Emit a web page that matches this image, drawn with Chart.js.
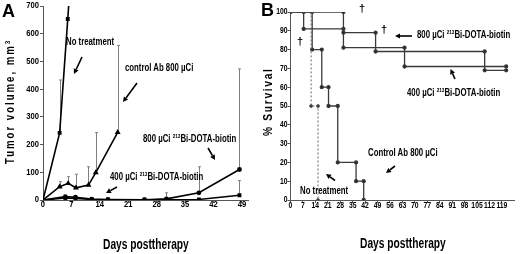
<!DOCTYPE html>
<html><head><meta charset="utf-8">
<script src="https://cdn.jsdelivr.net/npm/chart.js@4.4.0/dist/chart.umd.min.js"></script>
<style>
body{margin:0;background:#fff;width:520px;height:254px;overflow:hidden;position:relative;font-family:"Liberation Sans",Arial,sans-serif;}
canvas{position:absolute;top:0}
#ca{left:0}
#cb{left:260px}
.t{position:absolute;white-space:nowrap;font-weight:bold;color:#000;line-height:1;transform-origin:0 50%;transform:translateY(-50%) scaleX(0.78);font-size:10px}
.t sup{font-size:6px;vertical-align:top;position:relative;top:-1px}
.big{font-size:14px;transform:translateY(-50%) scaleX(0.73)}
.dg{font-size:11px;transform:translateY(-50%)}
.pan{font-size:18px;font-weight:bold;position:absolute;line-height:1}
.yt{position:absolute;white-space:nowrap;font-weight:bold;font-size:12px;line-height:1;transform-origin:0 0}
.yt sup{font-size:8px;vertical-align:top}
svg{position:absolute;left:0;top:0}
</style></head>
<body>
<canvas id="ca" width="260" height="254"></canvas>
<canvas id="cb" width="260" height="254"></canvas>
<svg width="520" height="254" id="arr"></svg>
<div class="pan" style="left:2px;top:2px">A</div>
<div class="pan" style="left:261px;top:1px">B</div>
<div class="yt" style="left:4px;top:164px;letter-spacing:2.5px;transform:rotate(-90deg) scaleX(0.8)">Tumor volume, mm<sup>3</sup></div>
<div class="yt" style="left:262px;top:136px;letter-spacing:2px;transform:rotate(-90deg) scaleX(0.85)">% Survival</div>
<div class="t" style="left:66px;top:42px">No treatment</div>
<div class="t" style="left:125px;top:68px">control Ab 800 µCi</div>
<div class="t" style="left:143px;top:139px">800 µCi <sup>213</sup>Bi-DOTA-biotin</div>
<div class="t" style="left:110px;top:177px">400 µCi <sup>213</sup>Bi-DOTA-biotin</div>
<div class="t big" style="left:103px;top:244px">Days posttherapy</div>
<div class="t" style="left:417px;top:35px">800 µCi <sup>213</sup>Bi-DOTA-biotin</div>
<div class="t" style="left:407px;top:93px">400 µCi <sup>213</sup>Bi-DOTA-biotin</div>
<div class="t" style="left:368px;top:153px">Control Ab 800 µCi</div>
<div class="t" style="left:300px;top:191px">No treatment</div>
<div class="t big" style="left:360px;top:243px">Days posttherapy</div>
<div class="t dg" style="left:297px;top:41px">†</div>
<div class="t dg" style="left:359px;top:8px">†</div>
<div class="t dg" style="left:381px;top:29px">†</div>
<script>
// ---------- Panel A data ----------
const xTicksA = [0,7,14,21,28,35,42,49];
const yTicksA = [0,100,200,300,400,500,600,700];
const noTxDaysA = [0,4.1,6.1,8];
const noTxVolA  = [0,242,653,1060];
const noTxErrA  = [null,433,null,null];
const ctrlDaysA = [0,4.1,6.2,8.1,11.2,13,18.4];
const ctrlVolA  = [0,48,60,44,54,99,244];
const ctrlErrA  = [null,66,84,93,120,243,558];
const biDaysA   = [0,5.5,8,12,16,25,30.4,38.4,48.4];
const bi800VolA = [0,12,10,3,2,1,4,26,110];
const bi800ErrA = [null,null,null,null,null,null,26,120,473];
const bi400VolA = [0,7,6,2,1,1,1,2,17];
const bi400ErrA = [null,null,null,null,null,null,null,null,70];

// ---------- Panel B data ----------
const xTicksB = [0,7,14,21,28,35,42,49,56,63,70,77,84,91,98,105,112,119];
const yTicksB = [0,10,20,30,40,50,60,70,80,90,100];
const noTxTimesB = [11.6,15.5];
const noTxSurvB  = [50,0];
const ctrlTimesB = [12.2,17.6,21.4,26.6,36.9,41.2];
const ctrlSurvB  = [80,60,50,20,10,0];
const bi800TimesB = [29.8,47.9,109.3];
const bi800SurvB  = [89,79,69];
const bi800EndB   = 121.4;
const bi400TimesB = [7.4,29.8,64.2];
const bi400SurvB  = [91,81,71];
const bi400EndB   = 121.4;

function pts(xs, ys){ return xs.map((x,i)=>({x:x,y:ys[i]})); }
function km(times, surv, end){
  const p=[{x:0,y:100}]; let prev=100;
  times.forEach((t,i)=>{ p.push({x:t,y:prev}); p.push({x:t,y:surv[i]}); prev=surv[i]; });
  if(end!=null) p.push({x:end,y:prev});
  return p;
}

const errPlugin = {
  id:'err',
  beforeDatasetsDraw(chart){
    const ctx=chart.ctx, xs=chart.scales.x, ys=chart.scales.y, a=chart.chartArea;
    ctx.save();
    ctx.beginPath(); ctx.rect(a.left,a.top-1,a.right-a.left,a.bottom-a.top+1); ctx.clip();
    ctx.strokeStyle='#808080'; ctx.lineWidth=1;
    chart.data.datasets.forEach(ds=>{
      if(!ds.err) return;
      ds.data.forEach((p,i)=>{
        const e=ds.err[i]; if(e==null) return;
        const px=Math.round(xs.getPixelForValue(p.x))+0.5;
        const y0=ys.getPixelForValue(p.y), y1=ys.getPixelForValue(e);
        ctx.beginPath(); ctx.moveTo(px,y0); ctx.lineTo(px,y1);
        ctx.moveTo(px-1.5,y1); ctx.lineTo(px+1.5,y1); ctx.stroke();
      });
    });
    ctx.restore();
  }
};

// narrow tick labels drawn from the scales' own ticks
function tickPlugin(size, sx, xLabelY, yLabelRight){
  return {
    id:'nt',
    afterDraw(chart){
      const ctx=chart.ctx, xs=chart.scales.x, ys=chart.scales.y;
      ctx.save();
      ctx.fillStyle='#000';
      ctx.font='bold '+size+'px "Liberation Sans", Arial, sans-serif';
      ctx.textBaseline='middle';
      ctx.textAlign='center';
      xs.ticks.forEach(t=>{
        const x=xs.getPixelForValue(t.value);
        ctx.save(); ctx.translate(x,xLabelY); ctx.scale(sx,1); ctx.fillText(String(t.value),0,0); ctx.restore();
      });
      ctx.textAlign='right';
      ys.ticks.forEach(t=>{
        const y=ys.getPixelForValue(t.value);
        ctx.save(); ctx.translate(yLabelRight,y); ctx.scale(sx,1); ctx.fillText(String(t.value),0,0); ctx.restore();
      });
      ctx.restore();
    }
  };
}

function axisCommon(){
  return {
    border:{color:'#555',width:1},
    grid:{drawOnChartArea:false,drawTicks:true,tickLength:3,color:'#555'},
    ticks:{display:false,autoSkip:false}
  };
}

new Chart(document.getElementById('ca'),{
  type:'line',
  data:{datasets:[
    {data:pts(noTxDaysA,noTxVolA),err:noTxErrA,borderColor:'#000',backgroundColor:'#000',borderWidth:1.6,pointRadius:1.6,pointStyle:'rect'},
    {data:pts(ctrlDaysA,ctrlVolA),err:ctrlErrA,borderColor:'#000',backgroundColor:'#000',borderWidth:1.6,pointRadius:1.8,pointStyle:'triangle'},
    {data:pts(biDaysA,bi800VolA),err:bi800ErrA,borderColor:'#000',backgroundColor:'#000',borderWidth:1.6,pointRadius:1.6,pointStyle:'circle'},
    {data:pts(biDaysA,bi400VolA),err:bi400ErrA,borderColor:'#000',backgroundColor:'#000',borderWidth:1.6,pointRadius:1.6,pointStyle:'rect'}
  ]},
  options:{
    responsive:false,animation:false,
    layout:{padding:{left:0,right:12,top:6,bottom:0}},
    plugins:{legend:{display:false},tooltip:{enabled:false}},
    scales:{
      x:Object.assign(axisCommon(),{type:'linear',min:0,max:50.5,
        afterBuildTicks:s=>{s.ticks=xTicksA.map(v=>({value:v}));},
        afterFit:s=>{s.height=54;}}),
      y:Object.assign(axisCommon(),{type:'linear',min:0,max:700,
        afterBuildTicks:s=>{s.ticks=yTicksA.map(v=>({value:v}));},
        afterFit:s=>{s.width=43;}})
    }
  },
  plugins:[errPlugin, tickPlugin(9,0.85,205,39)]
});

const lineB='#3a3a3a';
new Chart(document.getElementById('cb'),{
  type:'line',
  data:{datasets:[
    {data:km(noTxTimesB,noTxSurvB,null),borderColor:'#666',backgroundColor:'#333',borderWidth:1,borderDash:[2,2],pointRadius:1.5},
    {data:km(ctrlTimesB,ctrlSurvB,null),borderColor:lineB,backgroundColor:'#222',borderWidth:1.3,pointRadius:1.5},
    {data:km(bi800TimesB,bi800SurvB,bi800EndB),borderColor:lineB,backgroundColor:'#222',borderWidth:1.3,pointRadius:1.5},
    {data:km(bi400TimesB,bi400SurvB,bi400EndB),borderColor:lineB,backgroundColor:'#222',borderWidth:1.3,pointRadius:1.5}
  ]},
  options:{
    responsive:false,animation:false,
    layout:{padding:{left:0,right:3,top:12,bottom:0}},
    plugins:{legend:{display:false},tooltip:{enabled:false}},
    scales:{
      x:Object.assign(axisCommon(),{type:'linear',min:0,max:126.2,
        afterBuildTicks:s=>{s.ticks=xTicksB.map(v=>({value:v}));},
        afterFit:s=>{s.height=54;}}),
      y:Object.assign(axisCommon(),{type:'linear',min:0,max:100,
        afterBuildTicks:s=>{s.ticks=yTicksB.map(v=>({value:v}));},
        afterFit:s=>{s.width=30.5;}})
    }
  },
  plugins:[tickPlugin(8.5,0.8,206,27.5)]
});

// annotation arrows (page pixels)
const arrows=[[82,57,74,74],[137,83,123,102],[208,148,215,160],[117,187,106,193],
  [412,36,395,36],[455,79,450.5,69],[395,166,386,173],[335,180.5,326,174]];
const svg=document.getElementById('arr');
let s='';
arrows.forEach(a=>{
  const [x1,y1,x2,y2]=a; const ang=Math.atan2(y2-y1,x2-x1), L=5, W=2.6;
  const hx=x2-L*Math.cos(ang), hy=y2-L*Math.sin(ang);
  const px=-Math.sin(ang)*W, py=Math.cos(ang)*W;
  s+=`<line x1="${x1}" y1="${y1}" x2="${hx}" y2="${hy}" stroke="#000" stroke-width="1.6"/>`;
  s+=`<polygon points="${x2},${y2} ${hx+px},${hy+py} ${hx-px},${hy-py}" fill="#000"/>`;
});
svg.innerHTML=s;
</script>
</body></html>
